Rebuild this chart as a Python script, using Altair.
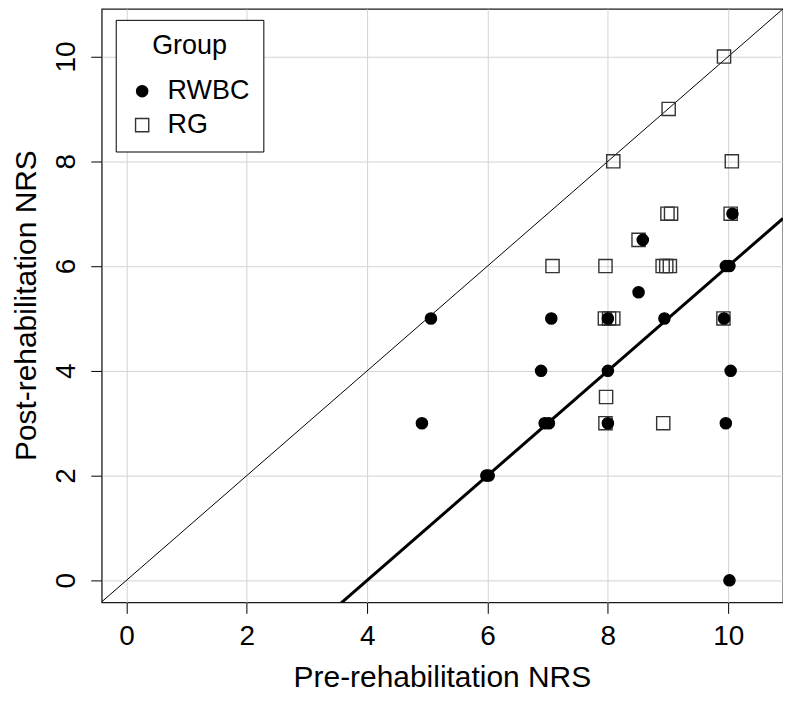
import altair as alt
import pandas as pd

# ---- data ----
rwbc_pre = [4.91, 5.06, 5.98, 6.02, 6.89, 6.95, 7.02, 7.06, 8.0, 8.0, 8.0, 8.51, 8.58, 8.94, 9.93, 9.96, 10.02, 10.07, 9.96, 10.04, 10.02]
rwbc_post = [3, 5, 2, 2, 4, 3, 3, 5, 5, 4, 3, 5.5, 6.5, 5, 5, 6, 6, 7, 3, 4, 0]

rg_pre = [9.93, 9.01, 8.09, 10.06, 8.99, 9.05, 10.04, 8.51, 7.08, 7.96, 8.91, 8.97, 9.03, 7.95, 8.02, 8.09, 9.92, 7.97, 7.96, 8.92]
rg_post = [10, 9, 8, 8, 7, 7, 7, 6.5, 6, 6, 6, 6, 6, 5, 5, 5, 5, 3.5, 3, 3]

groups = ["RWBC", "RG"]
tick_values = [0, 2, 4, 6, 8, 10]
x_limits = [-0.41, 10.91]
y_limits = [-0.42, 10.91]

# reference lines: identity line and y = x - 4
line_names = ["identity", "shift"]
line_slopes = [1.0, 1.0]
line_intercepts = [0.0, -4.0]
line_widths = [1.0, 3.0]

FONT = "Liberation Sans"

pts = pd.DataFrame({
    "pre": rg_pre + rwbc_pre,
    "post": rg_post + rwbc_post,
    "group": ["RG"] * len(rg_pre) + ["RWBC"] * len(rwbc_pre),
})

rows = []
for name, s, b, w in zip(line_names, line_slopes, line_intercepts, line_widths):
    for xv in x_limits:
        rows.append({"line": name, "pre": xv, "post": s * xv + b, "w": w})
lines_df = pd.DataFrame(rows)

x_scale = alt.Scale(domain=x_limits, nice=False, zero=False)
y_scale = alt.Scale(domain=y_limits, nice=False, zero=False)

x_axis = alt.Axis(
    values=tick_values, title="Pre-rehabilitation NRS", labelFlush=False,
    labelBaseline="alphabetic", labelPadding=31,
    titleBaseline="alphabetic", titleX=341, titleY=84, titleAlign="center",
)
y_axis = alt.Axis(
    values=tick_values, title="Post-rehabilitation NRS", labelFlush=False,
    labelAngle=270, labelAlign="center", labelBaseline="alphabetic", labelPadding=16,
    titleAngle=270, titleAlign="center", titleBaseline="alphabetic", titleX=-66, titleY=297,
)

leg = alt.Legend(
    title="Group", orient="none", legendX=14, legendY=11,
    strokeColor="black", fillColor="white", padding=13, cornerRadius=0,
    titleFont=FONT, titleFontSize=27, titleFontWeight="normal", titleColor="black",
    titleAnchor="middle", titlePadding=18,
    labelFont=FONT, labelFontSize=27, labelColor="black", labelOffset=12,
    symbolOffset=0, rowPadding=6, symbolStrokeWidth=1.4,
)

lines = alt.Chart(lines_df).mark_line(clip=True, color="black").encode(
    x=alt.X("pre:Q", scale=x_scale, axis=x_axis),
    y=alt.Y("post:Q", scale=y_scale, axis=y_axis),
    detail="line:N",
    strokeWidth=alt.StrokeWidth("w:Q", scale=None, legend=None),
)

points = alt.Chart(pts).mark_point(filled=True, opacity=1, strokeWidth=1.4).encode(
    x=alt.X("pre:Q", scale=x_scale, axis=x_axis),
    y=alt.Y("post:Q", scale=y_scale, axis=y_axis),
    shape=alt.Shape("group:N", scale=alt.Scale(domain=groups, range=["circle", "square"]), legend=leg),
    fill=alt.Fill("group:N", scale=alt.Scale(domain=groups, range=["black", "transparent"]), legend=leg),
    stroke=alt.Stroke("group:N", scale=alt.Scale(domain=groups, range=["black", "#333333"]), legend=leg),
    size=alt.Size("group:N", scale=alt.Scale(domain=groups, range=[125, 175]), legend=leg),
)

chart = alt.layer(lines, points).properties(
    width=683, height=595,
    autosize=alt.AutoSizeParams(type="none"),
    padding={"left": 94, "top": 0, "right": 0, "bottom": 90},
).configure_view(
    stroke="#1a1a1a", strokeWidth=1.3
).configure_axis(
    domain=False, grid=True, gridColor="#d3d3d3", gridWidth=1,
    tickColor="black", tickSize=11, tickWidth=1,
    labelFont=FONT, labelFontSize=28, labelColor="black",
    titleFont=FONT, titleFontSize=30, titleFontWeight="normal", titleColor="black",
)

chart.save("out.html", embed_options={"renderer": "svg", "actions": False})
